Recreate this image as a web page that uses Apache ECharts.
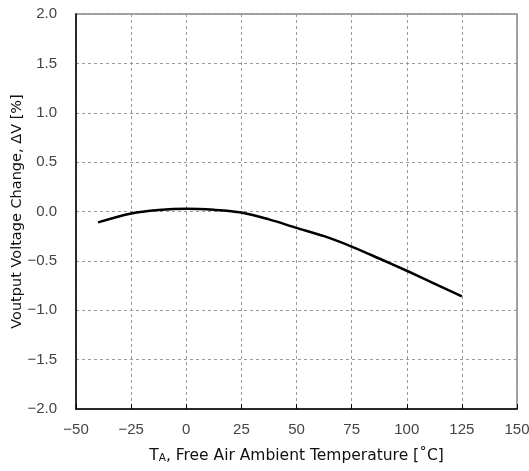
<!DOCTYPE html>
<html><head><meta charset="utf-8">
<script src="https://cdn.jsdelivr.net/npm/echarts@6/dist/echarts.min.js"></script>
<style>html,body{margin:0;padding:0;background:#fff}#c{width:529px;height:471px}</style>
</head><body><div id="c"></div>
<script>
const temps = [-40, -25, -12.5, 0, 12.5, 25, 37.5, 50, 62.5, 75, 87.5, 100, 112.5, 125];
const deltaV = [-0.11, -0.02, 0.015, 0.028, 0.017, -0.01, -0.08, -0.166, -0.25, -0.355, -0.476, -0.60, -0.73, -0.86];
const xTicks = [-50, -25, 0, 25, 50, 75, 100, 125, 150];
const yTicks = [-2.0, -1.5, -1.0, -0.5, 0.0, 0.5, 1.0, 1.5, 2.0];

const nameFont = '"DejaVu Sans", sans-serif';
const tickFont = '"Liberation Sans", Arial, sans-serif';
const fmtMinus = s => String(s).replace('-', '\u2212');
const chart = echarts.init(document.getElementById('c'), null, {renderer: 'canvas'});
chart.setOption({
  animation: false,
  backgroundColor: '#fff',
  grid: {left: 76, right: 12, top: 14, bottom: 62, containLabel: false, outerBoundsMode: 'none',
         show: true, borderColor: '#888', borderWidth: 1.5, backgroundColor: 'transparent'},
  xAxis: {
    type: 'value', min: xTicks[0], max: xTicks[xTicks.length - 1], interval: 25,
    axisLine: {show: true, onZero: false, lineStyle: {color: '#000', width: 1.5}},
    axisTick: {show: true, inside: true, length: 5, lineStyle: {color: '#000'}},
    splitLine: {show: true, lineStyle: {color: '#999', type: [3, 3], width: 1}},
    axisLabel: {color: '#444', fontSize: 15, fontFamily: tickFont, margin: 13, formatter: v => fmtMinus(v)},
    name: '{t|T}{s|A}{t|, Free Air Ambient Temperature [˚C]}',
    nameLocation: 'middle', nameGap: 39, nameMoveOverlap: false,
    nameTextStyle: {rich: {t: {fontSize: 15.5, color: '#111', fontFamily: nameFont}, s: {fontSize: 10.5, color: '#111', fontFamily: nameFont, padding: [4, 0, 0, 0]}}}
  },
  yAxis: {
    type: 'value', min: yTicks[0], max: yTicks[yTicks.length - 1], interval: 0.5,
    axisLine: {show: true, onZero: false, lineStyle: {color: '#000', width: 1.5}},
    axisTick: {show: false},
    splitLine: {show: true, lineStyle: {color: '#999', type: [3, 3], width: 1}},
    axisLabel: {color: '#444', fontSize: 15, fontFamily: tickFont, margin: 19, formatter: v => fmtMinus(v.toFixed(1))},
    name: 'Voutput Voltage Change, ΔV [%]',
    nameLocation: 'middle', nameGap: 51, nameMoveOverlap: false,
    nameTextStyle: {fontSize: 14.5, color: '#111', fontFamily: nameFont}
  },
  series: [{
    type: 'line', smooth: 0.3, showSymbol: false,
    data: temps.map((t, i) => [t, deltaV[i]]),
    lineStyle: {color: '#000', width: 2.5}
  }]
});
</script></body></html>
